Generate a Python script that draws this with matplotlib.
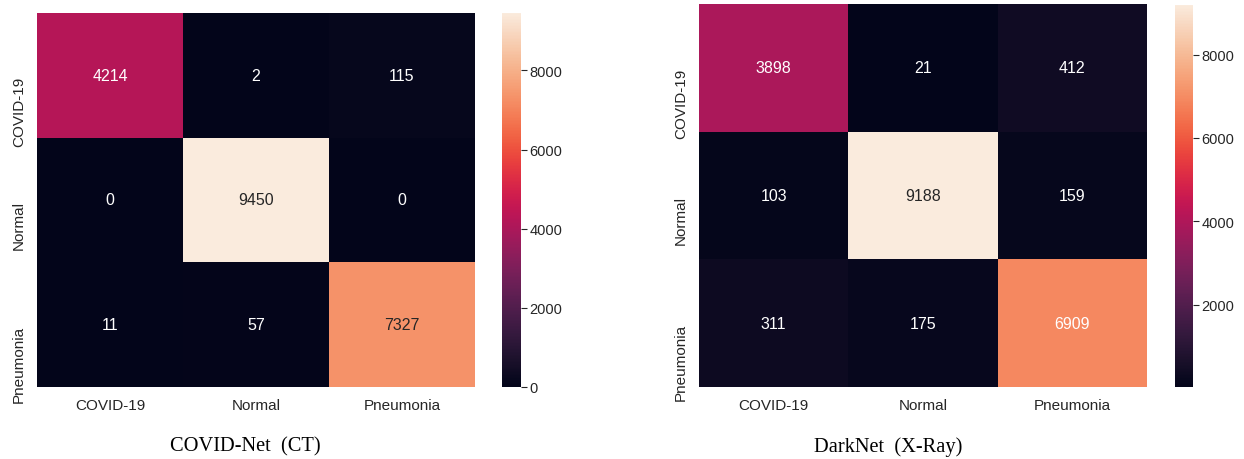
"""
Confusion matrices for COVID-Net (CT) and DarkNet (X-Ray)
"""

import numpy as np
import matplotlib
matplotlib.use("Agg")
import matplotlib.pyplot as plt
import seaborn as sns

classes = ["COVID-19", "Normal", "Pneumonia"]

covidnet_ct = np.array([[4214, 2, 115],
                        [0, 9450, 0],
                        [11, 57, 7327]])

darknet_xray = np.array([[3898, 21, 412],
                         [103, 9188, 159],
                         [311, 175, 6909]])

# annotation colours as seen in the picture (True = dark text)
covidnet_dark_text = [[False, False, False], [False, True, False], [False, False, True]]
darknet_dark_text = [[False, False, False], [False, True, False], [False, False, False]]

W, H = 1244, 460


def px_axes(fig, x0, y0, x1, y1):
    # pixel box (top-left origin) -> figure axes
    return fig.add_axes([x0 / W, 1 - y1 / H, (x1 - x0) / W, (y1 - y0) / H])


def draw_matrix(fig, mat, dark_text, box, cbar_box, title, title_x, cbar_ticks):
    ax = px_axes(fig, *box)
    cax = px_axes(fig, *cbar_box)
    sns.heatmap(mat, annot=True, fmt="d", cmap="rocket", ax=ax, cbar_ax=cax,
                annot_kws={"fontsize": 11.5, "family": "Liberation Sans"},
                xticklabels=classes, yticklabels=classes)
    for t, dark in zip(ax.texts, np.ravel(dark_text)):
        t.set_color("#262626" if dark else "white")
    ax.tick_params(length=0, labelsize=11, labelcolor="#262626")
    ax.tick_params(axis="x", pad=8)
    ax.tick_params(axis="y", pad=13)
    for lab in ax.get_xticklabels() + ax.get_yticklabels():
        lab.set_family("Liberation Sans")
    # y labels hang down from the row centre, as in the original
    plt.setp(ax.get_yticklabels(), rotation=90, rotation_mode="anchor",
             ha="right", va="center")
    cax.set_yticks(cbar_ticks)
    cax.tick_params(length=4, width=0.8, color="#262626", labelsize=10.5,
                    labelcolor="#262626", pad=2)
    for lab in cax.get_yticklabels():
        lab.set_family("Liberation Sans")
    ax.collections[0].colorbar.outline.set_visible(False)
    fig.text(title_x / W, 1 - 447 / H, title, ha="center", va="center",
             fontsize=14.7, family="Liberation Serif")


fig = plt.figure(figsize=(W / 100, H / 100), dpi=100)

draw_matrix(fig, covidnet_ct, covidnet_dark_text, (37, 14, 475, 388), (502, 14, 521, 388),
            "COVID-Net  (CT)", 245, [0, 2000, 4000, 6000, 8000])
draw_matrix(fig, darknet_xray, darknet_dark_text, (699, 5, 1147, 388), (1175, 6, 1193, 388),
            "DarkNet  (X-Ray)", 888, [2000, 4000, 6000, 8000])

fig.savefig("out.png", dpi=100)
